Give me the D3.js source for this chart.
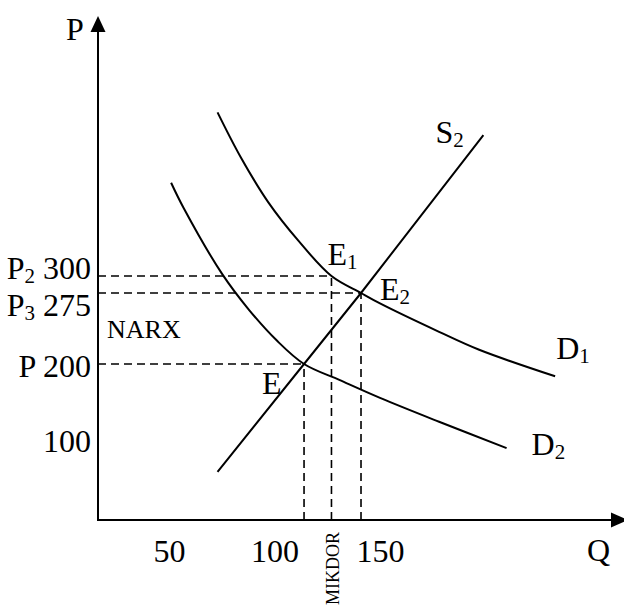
<!DOCTYPE html>
<html>
<head>
<meta charset="utf-8">
<script src="https://cdn.jsdelivr.net/npm/d3@7"></script>
<style>
	body { margin: 0; background: #fff; }
	svg { display: block; }
	text { font-family: "Liberation Serif", "Times New Roman", serif; fill: #000; }
</style>
</head>
<body>
<script>
// Quantity ticks on the horizontal axis
var qTicks = [50, 100, 150];

// Price ticks on the vertical axis (label letter, subscript, value)
var pTicks = [300, 275, 200, 100];
var pTickLetters = ["P", "P", "P", ""];
var pTickSubs = ["2", "3", "", ""];

// Demand curve D1 (quantity, price)
var d1Q = [73, 84, 97, 111, 127, 141, 150, 178, 197, 233];
var d1P = [486, 435, 384, 341, 300, 275, 264, 234, 215, 184];

// Demand curve D2
var d2Q = [51, 57, 75, 88, 101, 114, 131, 150, 178, 210];
var d2P = [406, 377, 303, 257, 225, 200, 179, 156, 125, 91];

// Supply curve S2
var s2Q = [73, 114, 141, 199];
var s2P = [61, 200, 275, 460];

// Equilibrium points
var eqNames = ["E", "E1", "E2"];
var eqQ = [114, 127, 141];
var eqP = [200, 300, 275];

var w = 624;
var h = 607;
var ox = 98;   // axis origin
var oy = 520;

var svg = d3.select("body").
append("svg").
attr("width", w).
attr("height", h);

// Scales (the price axis of the sketch is not evenly spaced)
var x = d3.scaleLinear().
domain([50, 150]).
range([169, 380]);

var y = d3.scaleLinear().
domain([0, 100, 200, 275, 300, 400]).
range([520, 441, 364, 293, 276, 188]);

// Dashed guide lines
var guides = svg.append("g").
attr("stroke", "#000").
attr("stroke-width", 1.6).
attr("stroke-dasharray", "8,5").
attr("fill", "none");

eqQ.forEach(function (q, i) {
	guides.append("line").
	attr("x1", ox).attr("y1", y(eqP[i])).
	attr("x2", x(q)).attr("y2", y(eqP[i]));
	guides.append("line").
	attr("x1", x(q)).attr("y1", oy).
	attr("x2", x(q)).attr("y2", y(eqP[i]));
});

// Curves
var line = d3.line().
x(function (d) {return x(d[0]);}).
y(function (d) {return y(d[1]);}).
curve(d3.curveCatmullRom);

function zip(a, b) {
	return a.map(function (v, i) {return [v, b[i]];});
}

[zip(d1Q, d1P), zip(d2Q, d2P)].forEach(function (pts) {
	svg.append("path").
	attr("d", line(pts)).
	attr("fill", "none").
	attr("stroke", "#000").
	attr("stroke-width", 2);
});

svg.append("path").
attr("d", line.curve(d3.curveLinear)(zip(s2Q, s2P))).
attr("fill", "none").
attr("stroke", "#000").
attr("stroke-width", 2);

// Axes with arrows
svg.append("line").
attr("x1", ox).attr("y1", oy).
attr("x2", ox).attr("y2", 30).
attr("stroke", "#000").attr("stroke-width", 2);
svg.append("polygon").
attr("points", [[ox, 16], [ox - 7.5, 32], [ox + 7.5, 32]].join(" "));

svg.append("line").
attr("x1", ox - 1).attr("y1", oy).
attr("x2", 613).attr("y2", oy).
attr("stroke", "#000").attr("stroke-width", 2);
svg.append("polygon").
attr("points", [[628, oy], [611, oy - 7.5], [611, oy + 7.5]].join(" "));

// Quantity tick labels
var gx = svg.append("g").
attr("transform", "translate(0," + oy + ")").
call(d3.axisBottom(x).tickValues(qTicks).tickSize(0).tickFormat(d3.format("d")));
gx.select(".domain").remove();
gx.selectAll("text").
attr("y", 42).
attr("dy", 0).
style("font-family", "Liberation Serif, serif").
style("font-size", "32px").
attr("fill", "#000");

// Price tick labels with subscripts
var labelDy = [3, 23, 13, 11];
pTicks.forEach(function (p, i) {
	var t = svg.append("text").
	attr("x", 91).
	attr("y", y(p) + labelDy[i]).
	attr("text-anchor", "end").
	style("font-size", "32px");
	var rest = (pTickLetters[i] ? " " : "") + p;
	t.append("tspan").text(pTickLetters[i]);
	if (pTickSubs[i]) {
		t.append("tspan").attr("dy", 4).style("font-size", "21px").text(pTickSubs[i]);
		t.append("tspan").attr("dy", -4).text(rest);
	} else {
		t.append("tspan").text(rest);
	}
});

// Text label with optional subscript
function label(txt, sub, lx, ly, size) {
	var t = svg.append("text").
	attr("x", lx).
	attr("y", ly).
	style("font-size", (size || 32) + "px").
	text(txt);
	if (sub) {
		t.append("tspan").attr("dy", 4).style("font-size", "21px").text(sub);
	}
	return t;
}

label("P", "", 66, 40);
label("Q", "", 587, 561);
label("S", "2", x(s2Q[3]) - 48, y(s2P[3]) + 8);
label("D", "1", x(d1Q[9]) + 1, y(d1P[9]) - 17);
label("D", "2", x(d2Q[9]) + 25, y(d2P[9]) + 7);
label("E", "", x(eqQ[0]) - 42, y(eqP[0]) + 30);
label("E", "1", x(eqQ[1]) - 4, y(eqP[1]) - 11);
label("E", "2", x(eqQ[2]) + 19, y(eqP[2]) + 7);
label("NARX", "", 107, 338, 26);

// Vertical "MIKDOR" under the quantity axis
svg.append("text").
attr("transform", "translate(" + (x(eqQ[1]) + 8) + ",605) rotate(-90)").
style("font-size", "18px").
text("MIKDOR");
</script>
</body>
</html>
